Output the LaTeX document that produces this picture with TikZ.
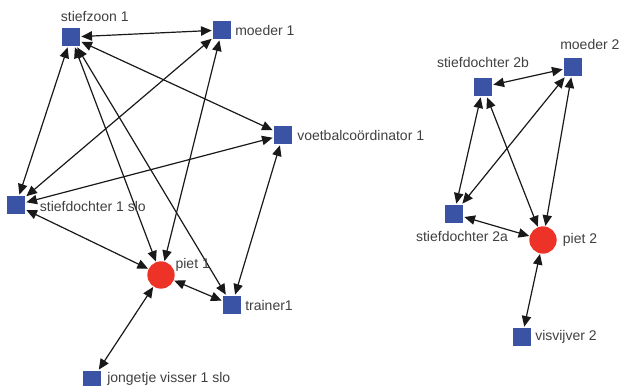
\documentclass[tikz,border=0pt]{standalone}
\usepackage{fontspec}
\setmainfont{Liberation Sans}
\usepackage{xcolor}
\usepackage{tikz}
\usetikzlibrary{positioning}
\usetikzlibrary{arrows.meta}
\definecolor{sqblue}{RGB}{58, 83, 164}
\definecolor{pietred}{RGB}{237, 50, 40}
\definecolor{labelgray}{RGB}{64, 64, 64}

\begin{document}
\begin{tikzpicture}[x=0.75pt, y=-0.75pt,
    person/.style={fill=sqblue, minimum size=13.5pt, inner sep=0pt, outer sep=1pt},
    ego/.style={circle, fill=pietred, minimum size=20.5pt, inner sep=0pt, outer sep=0.5pt},
    lbl/.style={font=\fontsize{10.5}{12}\selectfont, text=labelgray, inner sep=0pt},
    link/.style={{Triangle[length=8pt,width=7pt]}-{Triangle[length=8pt,width=7pt]}, line width=0.9pt, black!90}]
    \useasboundingbox (0,0) rectangle (620,385);

    % netwerk 1
    \node[person] (sz1) at (71,37) {};
    \node[person] (md1) at (222,30) {};
    \node[person] (vc1) at (283,135) {};
    \node[person] (sd1) at (16,205) {};
    \node[ego] (p1) at (161,275) {};
    \node[person] (tr1) at (232,305) {};
    \node[person] (jv1) at (92,380) {};

    % netwerk 2
    \node[person] (md2) at (573,67) {};
    \node[person] (sd2b) at (483,87) {};
    \node[person] (sd2a) at (454,214) {};
    \node[ego] (p2) at (543,240) {};
    \node[person] (vv2) at (522,337) {};

    \draw[link] (sz1) -- (md1);
    \draw[link] (sz1) -- (vc1);
    \draw[link] (sz1) -- (sd1);
    \draw[link] (sz1) -- (p1);
    \draw[link] (sz1) -- (tr1);
    \draw[link] (md1) -- (sd1);
    \draw[link] (md1) -- (p1);
    \draw[link] (vc1) -- (sd1);
    \draw[link] (vc1) -- (tr1);
    \draw[link] (sd1) -- (p1);
    \draw[link] (p1) -- (tr1);
    \draw[link] (p1) -- (jv1);

    \draw[link] (sd2b) -- (md2);
    \draw[link] (sd2b) -- (sd2a);
    \draw[link] (sd2b) -- (p2);
    \draw[link] (md2) -- (sd2a);
    \draw[link] (md2) -- (p2);
    \draw[link] (sd2a) -- (p2);
    \draw[link] (p2) -- (vv2);

    \node[lbl, above=3.5pt of sz1.north west, anchor=base west] (lsz1) {stiefzoon 1};
    \node[lbl, right=2pt of md1] (lmd1) {moeder 1};
    \node[lbl, right=2.75pt of vc1] (lvc1) {voetbalcoördinator 1};
    \node[lbl, right=10pt of sd1, yshift=-1pt] (lsd1) {stiefdochter 1 slo};
    \node[lbl, right=0pt of p1, yshift=7.5pt] (lp1) {piet 1};
    \node[lbl, right=2pt of tr1] (ltr1) {trainer1};
    \node[lbl, right=3.5pt of jv1, yshift=1pt] (ljv1) {jongetje visser 1 slo};

    \node[lbl, above=5.5pt of md2.north west, anchor=base west, xshift=-2pt] (lmd2) {moeder 2};
    \node[lbl, above=6.5pt of sd2b.north, anchor=base] (lsd2b) {stiefdochter 2b};
    \node[lbl, below=5pt of sd2a.south, anchor=north, xshift=6pt] (lsd2a) {stiefdochter 2a};
    \node[lbl, right=4pt of p2] (lp2) {piet 2};
    \node[lbl, right=2pt of vv2] (lvv2) {visvijver 2};
\end{tikzpicture}
\end{document}
